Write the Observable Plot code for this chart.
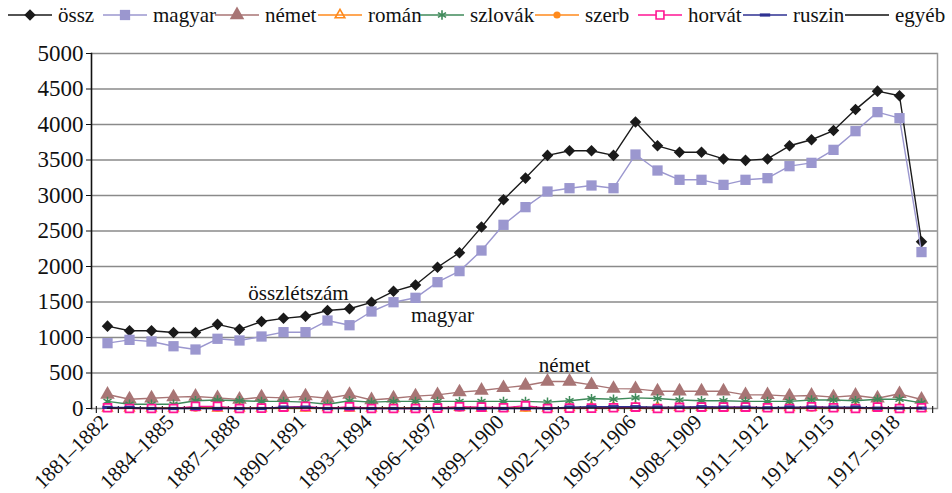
<!DOCTYPE html>
<html>
<head>
<meta charset="utf-8">
<script src="https://cdn.jsdelivr.net/npm/d3@7"></script>
<script src="https://cdn.jsdelivr.net/npm/@observablehq/plot@0.6"></script>
</head>
<body style="margin:0;background:#fff;font-family:'Liberation Serif'">
<div id="legend" style="position:relative;height:30px;width:952px;color:#111"></div>
<div id="chart"></div>
<script>
const years = [
  "1881–1882","1882–1883","1883–1884","1884–1885","1885–1886","1886–1887","1887–1888","1888–1889",
  "1889–1890","1890–1891","1891–1892","1892–1893","1893–1894","1894–1895","1895–1896","1896–1897",
  "1897–1898","1898–1899","1899–1900","1900–1901","1901–1902","1902–1903","1903–1904","1904–1905",
  "1905–1906","1906–1907","1907–1908","1908–1909","1909–1910","1910–1911","1911–1912","1912–1913",
  "1913–1914","1914–1915","1915–1916","1916–1917","1917–1918","1918–1919"
];
const ossz = [1160,1095,1095,1070,1070,1185,1115,1225,1270,1300,1380,1405,1495,1650,1740,1990,
  2195,2555,2940,3245,3565,3630,3630,3565,4035,3700,3610,3610,3515,3495,3515,3700,3785,3915,4210,4470,4405,2350];
const magyar = [920,967,944,877,831,982,958,1014,1075,1075,1239,1173,1366,1497,1559,1779,
  1935,2225,2587,2836,3056,3103,3141,3103,3577,3352,3221,3221,3150,3221,3244,3413,3460,3643,3906,4174,4089,2203];
const nemet = [197,131,145,160,169,150,127,160,150,174,145,195,120,145,174,192,
  230,254,291,324,380,380,333,280,277,244,244,244,244,192,192,174,183,160,183,145,207,127];
const roman = [5,5,5,5,15,5,5,5,10,5,10,5,5,5,5,10,15,5,5,5,5,10,15,15,15,15,15,15,10,10,10,10,15,10,10,10,10,5];
const szlovak = [100,60,60,60,110,120,110,100,100,90,60,110,90,100,100,100,100,100,100,100,90,110,140,130,150,140,120,110,110,100,100,100,120,120,110,130,130,80];
const szerb = [5,5,5,5,5,5,5,5,5,5,5,5,5,5,5,5,5,5,5,5,5,10,10,10,10,10,10,10,10,5,5,5,5,5,5,5,5,5];
const horvat = [10,0,0,0,30,30,0,5,20,30,0,25,0,0,0,5,25,20,10,40,0,5,5,10,20,0,15,20,20,20,10,0,25,10,0,20,0,10];
const ruszin = [15,15,0,0,0,0,0,0,20,20,0,0,0,0,0,0,0,0,0,0,0,20,25,25,25,20,20,25,20,20,10,20,20,20,20,5,5,5];
const egyeb = [5,5,5,5,5,5,5,5,5,5,5,5,5,5,5,5,5,5,5,5,5,5,5,5,5,5,5,5,5,5,5,5,5,5,5,5,5,5];
const yTicks = [0,500,1000,1500,2000,2500,3000,3500,4000,4500,5000];
const xTickLabels = years.filter((d, i) => i % 3 === 0);

const FONT = "'Liberation Serif'";
const dashSymbol = { draw(ctx, size) { const w = Math.sqrt(size) * 1.3; ctx.rect(-w / 2, -1.6, w, 3.2); } };

const series = [
  { name: "össz",   data: ossz,    color: "#1a1a1a", symbol: "diamond2", r: 5.2, fill: "#1a1a1a" },
  { name: "magyar", data: magyar,  color: "#9b97cf", symbol: "square",   r: 5.8, fill: "#9b97cf" },
  { name: "német",  data: nemet,   color: "#a87575", symbol: "triangle", r: 5.4, fill: "#a87575" },
  { name: "román",  data: roman,   color: "#ff8a1c", symbol: "triangle2",r: 4.6, fill: "none" },
  { name: "szlovák",data: szlovak, color: "#3f8a5a", symbol: "asterisk", r: 4.4, fill: "none" },
  { name: "szerb",  data: szerb,   color: "#ff8a1c", symbol: "circle",   r: 3.6, fill: "#ff8a1c" },
  { name: "horvát", data: horvat,  color: "#ff1593", symbol: "square2",  r: 5.0, fill: "#fff" },
  { name: "ruszin", data: ruszin,  color: "#2e3192", symbol: dashSymbol, r: 4.5, fill: "#2e3192" },
  { name: "egyéb",  data: egyeb,   color: "#111111", symbol: null,       r: 0,   fill: "none" }
];

const W = 952, H = 463;
const step = (W - 91 - 15) / years.length;
const marks = [
  Plot.ruleY(yTicks, { stroke: "#8a8a8a", strokeWidth: 1.3 }),
  Plot.frame({ anchor: "right", stroke: "#9a9a9a", strokeWidth: 1.5 }),
  Plot.ruleX(years, { x: d => d, dx: -step / 2, insetTop: 353, insetBottom: -5, stroke: "#222", strokeWidth: 1.2 }),
  Plot.ruleX([years[years.length - 1]], { x: d => d, dx: step / 2, insetTop: 353, insetBottom: -5, stroke: "#222", strokeWidth: 1.2 })
];

for (const s of series) {
  marks.push(Plot.line(s.data, { x: (d, i) => years[i], y: d => d, stroke: s.color, strokeWidth: 1.4 }));
  if (s.symbol) {
    const strokeOnly = s.fill === "none" || s.symbol === "square2";
    marks.push(Plot.dot(s.data, {
      x: (d, i) => years[i], y: d => d, symbol: s.symbol, r: s.r,
      fill: s.fill, stroke: strokeOnly ? s.color : "none",
      strokeWidth: s.symbol === "square2" ? 1.8 : 1.5
    }));
  }
}

marks.push(Plot.text(["összlétszám"], { x: () => years[9], y: () => 1630, text: d => d, dx: -7, fontSize: 21, fill: "#111", fontFamily: "Liberation Serif" }));
marks.push(Plot.text(["magyar"], { x: () => years[15], y: () => 1310, text: d => d, dx: 5, fontSize: 21, fill: "#111", fontFamily: "Liberation Serif" }));
marks.push(Plot.text(["német"], { x: () => years[21], y: () => 605, text: d => d, dx: -5, fontSize: 21, fill: "#111", fontFamily: "Liberation Serif" }));

marks.push(Plot.frame({ anchor: "left", stroke: "#111", strokeWidth: 1.6 }));
marks.push(Plot.axisY({ ticks: yTicks, tickFormat: d => String(d), tickSize: 5, tickPadding: 3, fontSize: 23, stroke: "#111", fontFamily: "Liberation Serif" }));
marks.push(Plot.axisX({ ticks: xTickLabels, tickRotate: -45, tickSize: 0, tickPadding: 10, dx: -3, fontSize: 21, fontFamily: "Liberation Serif" }));

const chart = Plot.plot({
  width: W, height: H,
  marginLeft: 91, marginRight: 15, marginTop: 23, marginBottom: 85,
  style: { fontSize: "21px", color: "#111", background: "#fff", overflow: "visible" },
  x: { type: "point", domain: years, padding: 0.5, label: null },
  y: { domain: [0, 5000], label: null },
  marks
});
chart.setAttribute("font-family", "Liberation Serif");
chart.querySelectorAll("g[font-family]").forEach(g => g.setAttribute("font-family", "Liberation Serif"));
chart.querySelectorAll("text").forEach(t => { t.setAttribute("font-family", "Liberation Serif"); t.style.fontFamily = FONT; });
document.getElementById("chart").appendChild(chart);

// legend
const legendLefts = [8, 103, 215, 318, 420, 535, 638, 743, 845];
const legend = document.getElementById("legend");
series.forEach((s, i) => {
  const item = document.createElement("div");
  item.style.position = "absolute";
  item.style.top = "2px";
  item.style.left = legendLefts[i] + "px";
  item.style.display = "flex";
  item.style.alignItems = "center";
  item.style.height = "26px";
  const svg = d3.create("svg").attr("width", 44).attr("height", 20).style("display", "block").style("margin-right", "6px");
  svg.append("line").attr("x1", 0).attr("x2", 44).attr("y1", 10).attr("y2", 10)
    .attr("stroke", s.color).attr("stroke-width", 1.6);
  if (s.symbol) {
    const symType = s.symbol === "diamond2" ? d3.symbolDiamond2 : s.symbol === "square" ? d3.symbolSquare
      : s.symbol === "triangle" ? d3.symbolTriangle : s.symbol === "triangle2" ? d3.symbolTriangle2
      : s.symbol === "asterisk" ? d3.symbolAsterisk : s.symbol === "circle" ? d3.symbolCircle
      : s.symbol === "square2" ? d3.symbolSquare2 : s.symbol;
    const p = svg.append("path").attr("transform", "translate(22,10)")
      .attr("d", d3.symbol(symType, s.r * s.r * Math.PI)());
    const strokeOnly = s.fill === "none" || s.symbol === "square2";
    p.attr("fill", s.fill).attr("stroke", strokeOnly ? s.color : "none").attr("stroke-width", 1.6);
  }
  item.appendChild(svg.node());
  const t = document.createElement("div");
  t.textContent = s.name;
  t.style.fontFamily = FONT;
  t.style.fontSize = "21px";
  item.appendChild(t);
  legend.appendChild(item);
});
</script>
</body>
</html>
